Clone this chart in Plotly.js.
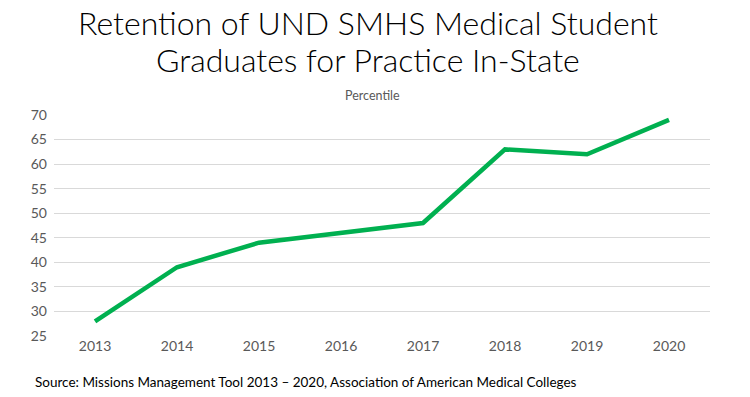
<!DOCTYPE html>
<html>
<head>
<meta charset="utf-8">
<script src="https://cdn.plot.ly/plotly-3.0.1.min.js"></script>
<style>html,body{margin:0;padding:0;background:#fff;}#chart{width:750px;height:397px;}</style>
</head>
<body>
<div id="chart"></div>
<script>
const years = ['2013','2014','2015','2016','2017','2018','2019','2020'];
const percentile = [28, 39, 44, 46, 48, 63, 62, 69];
const yTicks = [25, 30, 35, 40, 45, 50, 55, 60, 65, 70];
const titleLines = ['Retention of UND SMHS Medical Student', 'Graduates for Practice In-State'];

const trace = {
  x: years, y: percentile, type: 'scatter', mode: 'lines',
  line: {color: '#00B050', width: 4.5}, hoverinfo: 'none'
};
const titleFont = {family: 'Lato, sans-serif', size: 32, color: '#000', weight: 300};
const layout = {
  width: 750, height: 397,
  margin: {l: 54, r: 40, t: 115, b: 61},
  paper_bgcolor: '#fff', plot_bgcolor: '#fff',
  showlegend: false,
  font: {family: 'Lato, sans-serif', color: '#595959', size: 14},
  xaxis: {
    type: 'category', range: [-0.5, 7.5], showgrid: false, zeroline: false,
    showline: false, ticks: '', tickfont: {size: 14, color: '#595959'}, fixedrange: true
  },
  yaxis: {
    range: [25, 70], tickvals: yTicks, showgrid: true, gridcolor: '#d9d9d9', gridwidth: 1,
    zeroline: false, showline: false, ticks: '', ticklabelstandoff: 6,
    tickfont: {size: 14, color: '#595959'}, fixedrange: true
  },
  annotations: [
    {text: titleLines[0], xref: 'paper', yref: 'paper', x: 0.5, xshift: -14, y: 1, yshift: 93,
     xanchor: 'center', yanchor: 'middle', showarrow: false, font: titleFont},
    {text: titleLines[1], xref: 'paper', yref: 'paper', x: 0.5, xshift: -14, y: 1, yshift: 56,
     xanchor: 'center', yanchor: 'middle', showarrow: false, font: titleFont},
    {text: 'Percentile', xref: 'paper', yref: 'paper', x: 0.5, xshift: -10, y: 1, yshift: 20,
     xanchor: 'center', yanchor: 'middle', showarrow: false,
     font: {size: 12.5, color: '#595959'}},
    {text: 'Source: Missions Management Tool 2013 – 2020, Association of American Medical Colleges',
     xref: 'paper', yref: 'paper', x: 0, xshift: -21, y: 0, yshift: -46,
     xanchor: 'left', yanchor: 'middle', showarrow: false,
     font: {size: 13.5, color: '#000'}}
  ]
};
Plotly.newPlot('chart', [trace], layout, {displayModeBar: false, staticPlot: true});
</script>
</body>
</html>
